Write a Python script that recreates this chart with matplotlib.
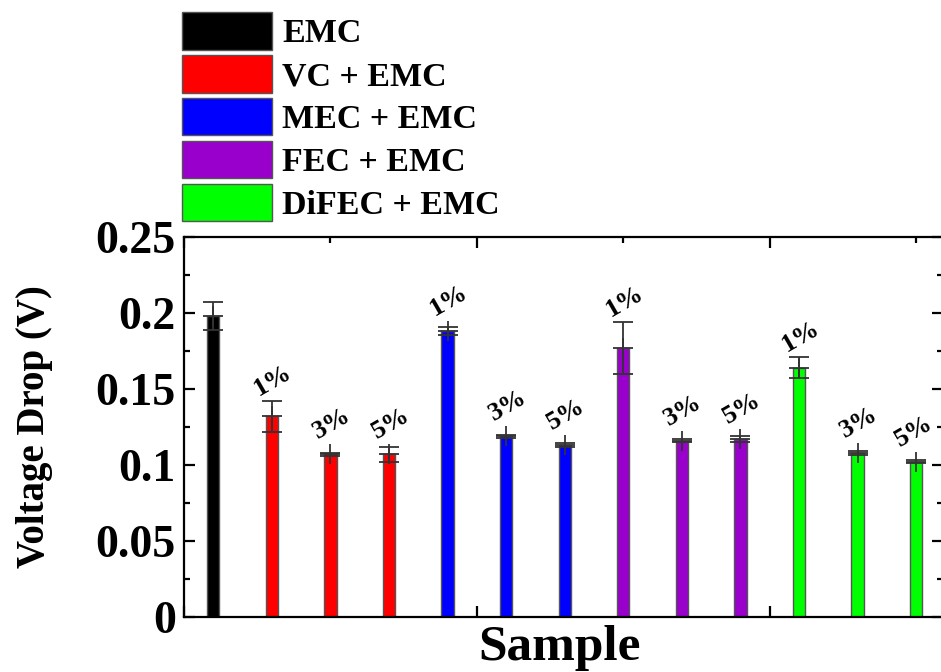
import matplotlib
matplotlib.use("Agg")
import matplotlib.pyplot as plt
from matplotlib.patches import Patch
from matplotlib.ticker import MultipleLocator, FixedLocator
import numpy as np

# ---- data -------------------------------------------------------------
groups = ["EMC", "VC + EMC", "MEC + EMC", "FEC + EMC", "DiFEC + EMC"]
group_colors = ["#000000", "#ff0000", "#0000ff", "#9900cc", "#00ff00"]

# one entry per bar: group index, value, error, label
bar_group = [0, 1, 1, 1, 2, 2, 2, 3, 3, 3, 4, 4, 4]
voltage_drop = [0.198, 0.132, 0.107, 0.107, 0.188, 0.119, 0.113,
                0.177, 0.116, 0.117, 0.164, 0.108, 0.102]
voltage_err = [0.009, 0.010, 0.001, 0.0047, 0.0025, 0.001, 0.0013,
               0.0172, 0.001, 0.0018, 0.0068, 0.0013, 0.001]
bar_labels = ["", "1%", "3%", "5%", "1%", "3%", "5%",
              "1%", "3%", "5%", "1%", "3%", "5%"]

y_ticks = [0, 0.05, 0.1, 0.15, 0.2, 0.25]
y_tick_labels = ["0", "0.05", "0.1", "0.15", "0.2", "0.25"]

# ---- figure -----------------------------------------------------------
W, H = 941, 672
fig = plt.figure(figsize=(W / 100, H / 100), dpi=100)
serif = "Liberation Serif"
plt.rcParams["font.family"] = serif
plt.rcParams["font.weight"] = "bold"

ax_left, ax_right, ax_top, ax_bottom = 184, 942.5, 237, 617
ax = fig.add_axes([ax_left / W, (H - ax_bottom) / H,
                   (ax_right - ax_left) / W, (ax_bottom - ax_top) / H])

x = np.arange(len(voltage_drop))
colors = [group_colors[g] for g in bar_group]
ax.bar(x, voltage_drop, width=0.21, color=colors, edgecolor="#555555",
       linewidth=1.0, zorder=2)
ax.errorbar(x, voltage_drop, yerr=voltage_err, fmt="+", color="#333333",
            ecolor="#333333", elinewidth=1.3, capsize=7.2, capthick=1.3,
            markersize=14.4, markeredgewidth=1.3, zorder=3)

ax.set_xlim(-0.5, 12.45)
ax.set_ylim(0, 0.25)

# percentage labels above each bar
fig.canvas.draw()
px_per_unit = ax.transData.transform((0, 1))[1] - ax.transData.transform((0, 0))[1]
marker_half_pt = 7.2
for xi, v, e, lab in zip(x, voltage_drop, voltage_err, bar_labels):
    if not lab:
        continue
    err_pt = e * px_per_unit * 72 / 100
    gap = max(err_pt, marker_half_pt) + 0.5
    ax.annotate(lab, xy=(xi, v), xytext=(1 if xi < 12 else -2, gap),
                textcoords="offset points",
                ha="center", va="bottom", rotation=30, fontsize=19,
                fontweight="bold", family=serif, zorder=4)

# ---- axes styling -----------------------------------------------------
for s in ax.spines.values():
    s.set_linewidth(1.6)
ax.yaxis.set_major_locator(FixedLocator(y_ticks))
ax.set_yticklabels(y_tick_labels)
ax.yaxis.set_minor_locator(MultipleLocator(0.025))
ax.xaxis.set_major_locator(FixedLocator([-0.5, 4.5, 9.5]))
ax.xaxis.set_minor_locator(FixedLocator([2.0, 7.0, 12.0]))
ax.set_xticklabels([])
ax.tick_params(which="both", direction="in", top=True, right=True, width=1.6)
ax.tick_params(which="major", length=8)
ax.tick_params(which="minor", length=4.5)
ax.tick_params(axis="y", which="major", pad=6)
for t in ax.get_yticklabels():
    t.set_fontsize(33)
    t.set_fontweight("bold")
    t.set_family(serif)

ax.set_ylabel("Voltage Drop (V)", fontsize=28, fontweight="bold", family=serif)
ax.yaxis.set_label_coords((53 - ax_left) / (ax_right - ax_left), 0.5)
ax.set_xlabel("Sample", fontsize=37, fontweight="bold", family=serif)
ax.xaxis.label.set_va("baseline")
ax.xaxis.set_label_coords((560 - ax_left) / (ax_right - ax_left),
                          (ax_bottom - 660) / (ax_bottom - ax_top))

# ---- legend -----------------------------------------------------------
handles = [Patch(facecolor=c, edgecolor="#555555", linewidth=1.0) for c in group_colors]
fig.legend(handles, groups, loc="upper left",
           bbox_to_anchor=(182 / W, 1 - 12 / H), frameon=False,
           prop={"family": serif, "weight": "bold", "size": 24.5},
           handlelength=2.65, handleheight=1.32, labelspacing=0.16,
           handletextpad=0.3, borderpad=0, borderaxespad=0)

fig.savefig("out.png", dpi=100)
